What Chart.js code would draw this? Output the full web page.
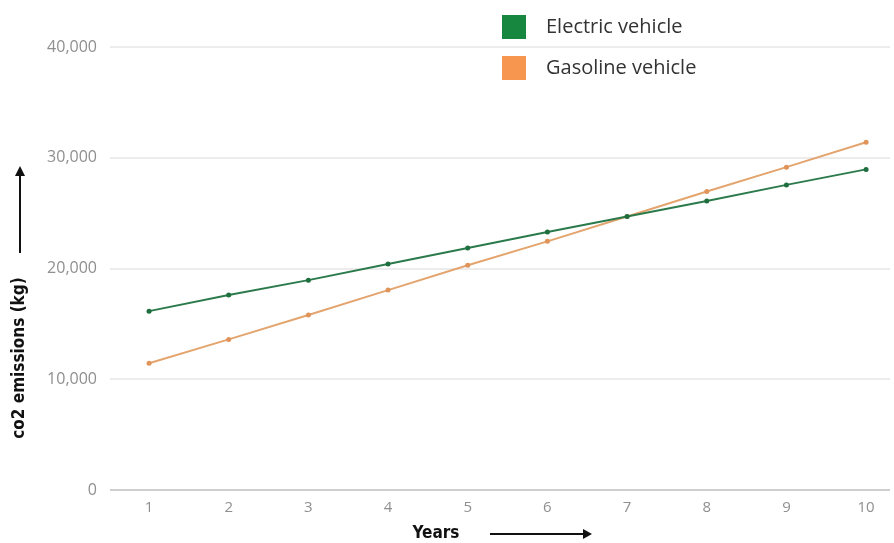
<!DOCTYPE html>
<html lang="en">
<head>
    <meta charset="UTF-8">
    <title>CO2 emissions: electric vs gasoline</title>
    <script src="https://cdn.jsdelivr.net/npm/chart.js"></script>
    <style>
        html, body { margin: 0; padding: 0; background: #fff; }
        .wrap { position: relative; width: 894px; height: 543px; }
    </style>
</head>
<body>
    <div class="wrap">
        <canvas id="lineChart" width="894" height="543"></canvas>
    </div>

    <script>
        // chart data
        var years = [1, 2, 3, 4, 5, 6, 7, 8, 9, 10];
        var electricValues = [16150, 17600, 18950, 20400, 21850, 23300, 24700, 26100, 27550, 28950];
        var gasolineValues = [11450, 13600, 15800, 18050, 20300, 22450, 24700, 26950, 29150, 31400];
        var yTicks = [0, 10000, 20000, 30000, 40000];
        var seriesNames = ["Electric vehicle", "Gasoline vehicle"];
        var xTitle = "Years";
        var yTitle = "co2 emissions (kg)";

        function toPoints(vals) {
            return years.map(function (y, i) { return { x: y, y: vals[i] }; });
        }

        var legendColors = ["#17873f", "#f7964f"];

        // draws legend, axis titles and the arrows
        var extrasPlugin = {
            id: 'extras',
            afterDraw: function (chart) {
                var ctx = chart.ctx;
                ctx.save();

                // legend
                ctx.font = '20px "Open Sans", sans-serif';
                ctx.textBaseline = 'middle';
                ctx.textAlign = 'left';
                var rows = [27, 68];
                for (var i = 0; i < seriesNames.length; i++) {
                    ctx.fillStyle = legendColors[i];
                    ctx.fillRect(502, rows[i] - 12, 24, 24);
                    ctx.fillStyle = '#333';
                    ctx.fillText(seriesNames[i], 546, rows[i]);
                }

                // x title + arrow
                ctx.fillStyle = '#111';
                ctx.font = 'bold 17px "Liberation Sans Narrow", "DejaVu Sans Condensed", sans-serif';
                ctx.textAlign = 'center';
                ctx.fillText(xTitle, 436, 534);
                ctx.strokeStyle = '#111';
                ctx.lineWidth = 2;
                ctx.beginPath();
                ctx.moveTo(490, 534);
                ctx.lineTo(584, 534);
                ctx.stroke();
                ctx.beginPath();
                ctx.moveTo(592, 534);
                ctx.lineTo(583, 529);
                ctx.lineTo(583, 539);
                ctx.closePath();
                ctx.fill();

                // y title + arrow
                ctx.save();
                ctx.translate(20, 358);
                ctx.rotate(-Math.PI / 2);
                ctx.fillText(yTitle, 0, 0);
                ctx.restore();
                ctx.beginPath();
                ctx.moveTo(20, 253);
                ctx.lineTo(20, 175);
                ctx.stroke();
                ctx.beginPath();
                ctx.moveTo(20, 166);
                ctx.lineTo(15, 176);
                ctx.lineTo(25, 176);
                ctx.closePath();
                ctx.fill();

                ctx.restore();
            }
        };

        var ctx = document.getElementById("lineChart").getContext("2d");
        var myChart = new Chart(ctx, {
            type: 'line',
            data: {
                datasets: [{
                    label: seriesNames[0],
                    data: toPoints(electricValues),
                    borderColor: "#2b7a4b",
                    backgroundColor: "#1f6e3f",
                    borderWidth: 2,
                    pointRadius: 2.5,
                    pointBorderWidth: 0,
                    tension: 0
                }, {
                    label: seriesNames[1],
                    data: toPoints(gasolineValues),
                    borderColor: "#e3a46e",
                    backgroundColor: "#e0945a",
                    borderWidth: 2,
                    pointRadius: 2.5,
                    pointBorderWidth: 0,
                    tension: 0
                }]
            },
            options: {
                responsive: false,
                animation: false,
                layout: { padding: { top: 47, left: 0, right: 0, bottom: 17 } },
                plugins: {
                    legend: { display: false },
                    tooltip: { enabled: false }
                },
                scales: {
                    x: {
                        type: 'linear',
                        min: 0.51,
                        max: 10.3,
                        afterBuildTicks: function (scale) {
                            scale.ticks = years.map(function (v) { return { value: v }; });
                        },
                        grid: { display: false, drawTicks: false },
                        border: { display: false },
                        ticks: {
                            color: '#8f8f8f',
                            padding: 9,
                            font: { family: '"Open Sans", sans-serif', size: 15 },
                            maxRotation: 0
                        }
                    },
                    y: {
                        min: 0,
                        max: 40000,
                        afterBuildTicks: function (scale) {
                            scale.ticks = yTicks.map(function (v) { return { value: v }; });
                        },
                        grid: {
                            drawTicks: false,
                            lineWidth: 2,
                            color: function (c) { return c.tick && c.tick.value === 0 ? '#cfcfcf' : '#ececec'; }
                        },
                        border: { display: false },
                        afterFit: function (scale) { scale.width = 110; },
                        ticks: {
                            color: '#8f8f8f',
                            padding: 13,
                            font: { family: '"Open Sans", sans-serif', size: 16 },
                            callback: function (v) { return v.toLocaleString('en-US'); }
                        }
                    }
                }
            },
            plugins: [extrasPlugin]
        });
    </script>
</body>
</html>
